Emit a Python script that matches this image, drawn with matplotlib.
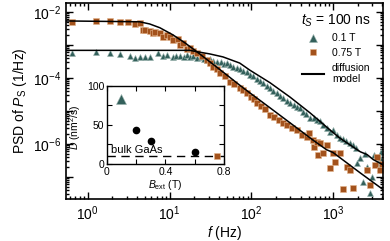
import numpy as np
import matplotlib
matplotlib.use("Agg")
import matplotlib.pyplot as plt
from matplotlib.lines import Line2D
from matplotlib.ticker import LogLocator, NullFormatter, FixedLocator, FixedFormatter

plt.rcParams['font.family'] = ['Liberation Sans', 'DejaVu Sans']
plt.rcParams['mathtext.fontset'] = 'custom'
plt.rcParams['mathtext.rm'] = 'Liberation Sans'
plt.rcParams['mathtext.it'] = 'Liberation Sans:italic'

teal = '#33605b'
brown = '#a3521c'

# 0.1 T spectrum (triangles)
f_01 = [0.64, 1.25, 1.86, 2.5, 3.3, 3.8, 4.3, 5.0, 5.7, 7.2, 8.2, 9.3, 11, 12, 13.4, 15,
        16.5, 17.7, 19.5, 21.5, 24, 26, 28.7, 31, 34, 38, 42, 46, 50, 55, 60, 66, 72, 80,
        88, 96, 105, 116, 128, 140, 154, 169, 186, 205, 225, 245, 270, 297, 330, 360, 390,
        430, 470, 520, 580, 640, 690, 760, 840, 920, 1000, 1100, 1200, 1320, 1450, 1600,
        1750, 1900, 1960, 2140, 2300, 2450, 2600, 2800, 3000, 3200, 3450, 3700, 3750, 3900]
psd_01 = [5.7e-4, 6.2e-4, 5.7e-4, 5.3e-4, 4.7e-4, 4.0e-4, 4.3e-4, 4.3e-4, 4.3e-4, 5.7e-4,
          4.6e-4, 5.0e-4, 4.3e-4, 4.6e-4, 4.6e-4, 4.3e-4, 4.8e-4, 4.3e-4, 4.5e-4, 4.0e-4,
          4.2e-4, 3.8e-4, 3.5e-4, 3.6e-4, 3.2e-4, 3.0e-4, 3.1e-4, 2.7e-4, 2.8e-4, 2.4e-4,
          2.2e-4, 2.0e-4, 1.8e-4, 1.6e-4, 1.5e-4, 1.2e-4, 1.1e-4, 9.0e-5, 7.8e-5, 6.8e-5,
          5.8e-5, 5.0e-5, 4.1e-5, 3.4e-5, 2.9e-5, 2.4e-5, 2.0e-5, 1.75e-5, 1.5e-5, 1.3e-5,
          1.23e-5, 9.5e-6, 7.8e-6, 6.2e-6, 5.9e-6, 5.3e-6, 4.8e-6, 3.8e-6, 3.0e-6, 2.3e-6,
          2.6e-6, 1.9e-6, 1.5e-6, 1.4e-6, 1.2e-6, 1.07e-6, 9.0e-7, 7.6e-7, 2.6e-7, 3.8e-7,
          7.1e-8, 5.0e-7, 2.0e-7, 3.3e-8, 1.0e-7, 4.5e-7, 2.6e-7, 3.8e-7, 1.9e-7, 5.5e-7]

# 0.75 T spectrum (squares)
f_075 = [0.64, 1.25, 1.86, 2.5, 3.1, 3.8, 4.3, 4.7, 5.0, 5.7, 6.2, 6.6, 7.6, 8.3, 9.3, 10,
         11, 12.6, 13.4, 14.5, 16.3, 17.7, 19.5, 21.5, 25, 28.7, 31, 34, 38, 41, 47, 55, 62,
         72, 79, 88, 98, 107, 117, 130, 148, 169, 190, 215, 245, 274, 310, 360, 420, 480,
         500, 565, 590, 630, 650, 690, 755, 850, 920, 1000, 1050, 1200, 1320, 1480, 1600,
         1750, 2600, 2800, 3250, 3450, 3750, 3950]
psd_075 = [4.8e-3, 5.3e-3, 5.3e-3, 5.0e-3, 5.0e-3, 4.3e-3, 4.6e-3, 2.8e-3, 2.8e-3, 2.6e-3,
           2.3e-3, 2.5e-3, 2.3e-3, 1.75e-3, 2.0e-3, 1.7e-3, 1.4e-3, 1.5e-3, 1.0e-3, 1.1e-3,
           7.5e-4, 8.1e-4, 6.5e-4, 5.7e-4, 4.5e-4, 3.5e-4, 2.8e-4, 2.15e-4, 1.8e-4, 1.4e-4,
           1.1e-4, 7.5e-5, 6.5e-5, 5.0e-5, 4.4e-5, 3.4e-5, 2.7e-5, 2.2e-5, 1.74e-5, 1.4e-5,
           1.1e-5, 7.6e-6, 6.5e-6, 5.2e-6, 4.3e-6, 3.8e-6, 3.0e-6, 2.6e-6, 1.9e-6, 1.6e-6,
           2.1e-6, 1.3e-6, 8.1e-7, 1.15e-6, 4.7e-7, 1.07e-6, 5.4e-7, 9.3e-7, 1.9e-7, 5.4e-7,
           2.8e-7, 5.4e-7, 4.1e-8, 2.0e-7, 1.6e-7, 4.7e-8, 1.6e-7, 5.8e-8, 2.3e-7, 4.1e-7,
           1.6e-7, 2.5e-7]

# diffusion model curves
f_mod_01 = [0.54, 17.7, 21.5, 31, 45, 72, 96, 169, 297, 520, 920, 1200, 2150, 2600, 3100, 4070]
psd_mod_01 = [6.8e-4, 6.8e-4, 6.2e-4, 5.3e-4, 4.3e-4, 2.8e-4, 1.7e-4, 7.1e-5, 2.6e-5, 8.7e-6,
              2.6e-6, 1.5e-6, 5.7e-7, 4.7e-7, 3.3e-7, 2.3e-7]
f_mod_075 = [0.54, 4.3, 5.7, 7.6, 11, 15.4, 21.5, 45, 79, 169, 390, 565, 830, 1000, 2150, 4070]
psd_mod_075 = [5.3e-3, 5.0e-3, 4.3e-3, 3.3e-3, 2.0e-3, 1.15e-3, 6.2e-4, 1.5e-4, 5.0e-5,
               1.23e-5, 2.6e-6, 1.3e-6, 6.6e-7, 5.4e-7, 1.3e-7, 4.1e-8]

# inset: diffusion constant vs field
B_tri, D_tri = [0.1], [83]
B_dot, D_dot = [0.2, 0.3, 0.6], [44, 29, 15]
B_sq, D_sq = [0.75], [10]
D_bulk = 10

fig = plt.figure(figsize=(3.9, 2.41), dpi=100)
ax = fig.add_axes([0.169, 0.174, 0.813, 0.814])

ax.plot(f_01, psd_01, ls='none', marker='^', ms=5, color=teal, mec='#9bb3ae', mew=0.4)
ax.plot(f_075, psd_075, ls='none', marker='s', ms=4.3, color=brown, mec='#e2b48c', mew=0.4)
ax.plot(f_mod_01, psd_mod_01, color='black', lw=1.1, zorder=4)
ax.plot(f_mod_075, psd_mod_075, color='black', lw=1.1, zorder=4)

ax.set_xscale('log')
ax.set_yscale('log')
ax.set_xlim(0.54, 4070)
ax.set_ylim(2.1e-8, 1.87e-2)

ax.yaxis.set_major_locator(FixedLocator([1e-8, 1e-7, 1e-6, 1e-5, 1e-4, 1e-3, 1e-2]))
ax.yaxis.set_major_formatter(FixedFormatter(['', '', r'$10^{-6}$', '', r'$10^{-4}$', '', r'$10^{-2}$']))
ax.yaxis.set_minor_locator(LogLocator(base=10, subs=np.arange(2, 10), numticks=20))
ax.yaxis.set_minor_formatter(NullFormatter())
ax.xaxis.set_major_locator(LogLocator(base=10, numticks=10))
ax.xaxis.set_minor_locator(LogLocator(base=10, subs=np.arange(2, 10), numticks=20))
ax.xaxis.set_minor_formatter(NullFormatter())

ax.tick_params(which='both', direction='in', top=True, right=True, labelsize=10, width=1.0)
ax.tick_params(which='major', length=5)
ax.tick_params(which='minor', length=2.5)
for s in ax.spines.values():
    s.set_linewidth(1.2)

ax.set_xlabel(r'$f$ (Hz)', fontsize=10, labelpad=1)
ax.set_ylabel(r'PSD of $P_{\rm S}$ (1/Hz)', fontsize=10, labelpad=3)

handles = [Line2D([], [], ls='none', marker='^', ms=5.5, color=teal, mec='#9bb3ae', mew=0.4),
           Line2D([], [], ls='none', marker='s', ms=5, color=brown, mec='#e2b48c', mew=0.4),
           Line2D([], [], color='black', lw=1.5)]
leg = ax.legend(handles, ['0.1 T', '0.75 T', 'diffusion\nmodel'], title=r'$t_S$ = 100 ns',
                loc='upper right', bbox_to_anchor=(0.985, 0.99), frameon=False, fontsize=7.5,
                title_fontsize=10, handlelength=2.1, handletextpad=0.8, labelspacing=0.45,
                borderpad=0.2)

# inset
axi = fig.add_axes([0.274, 0.320, 0.300, 0.323])
axi.axhline(D_bulk, color='black', lw=1.0, ls=(0, (6, 4)), zorder=1)
axi.plot(B_tri, D_tri, ls='none', marker='^', ms=6.5, color=teal, mec='#9bb3ae', mew=0.4)
axi.plot(B_dot, D_dot, ls='none', marker='o', ms=4.5, color='black')
axi.plot(B_sq, D_sq, ls='none', marker='s', ms=5, color=brown, mec='#e2b48c', mew=0.4, zorder=3)
axi.text(0.03, D_bulk + 1, 'bulk GaAs', fontsize=8, va='bottom', ha='left')
axi.set_xlim(0, 0.8)
axi.set_ylim(0, 100)
axi.set_xticks([0, 0.2, 0.4, 0.6, 0.8])
axi.set_xticklabels(['0', '', '0.4', '', '0.8'])
axi.set_yticks([0, 25, 50, 75, 100])
axi.set_yticklabels(['0', '', '50', '', '100'])
axi.tick_params(direction='in', top=True, right=True, labelsize=7.5, length=3.5, width=0.8, pad=2)
for s in axi.spines.values():
    s.set_linewidth(1.0)
axi.set_xlabel(r'$B_{\rm ext}$ (T)', fontsize=7.5, labelpad=1)
axi.set_ylabel(r'$D$ (nm$^2$/s)', fontsize=7.5)
axi.yaxis.set_label_coords(-0.2, 0.47)

fig.savefig('out.png', dpi=100)
